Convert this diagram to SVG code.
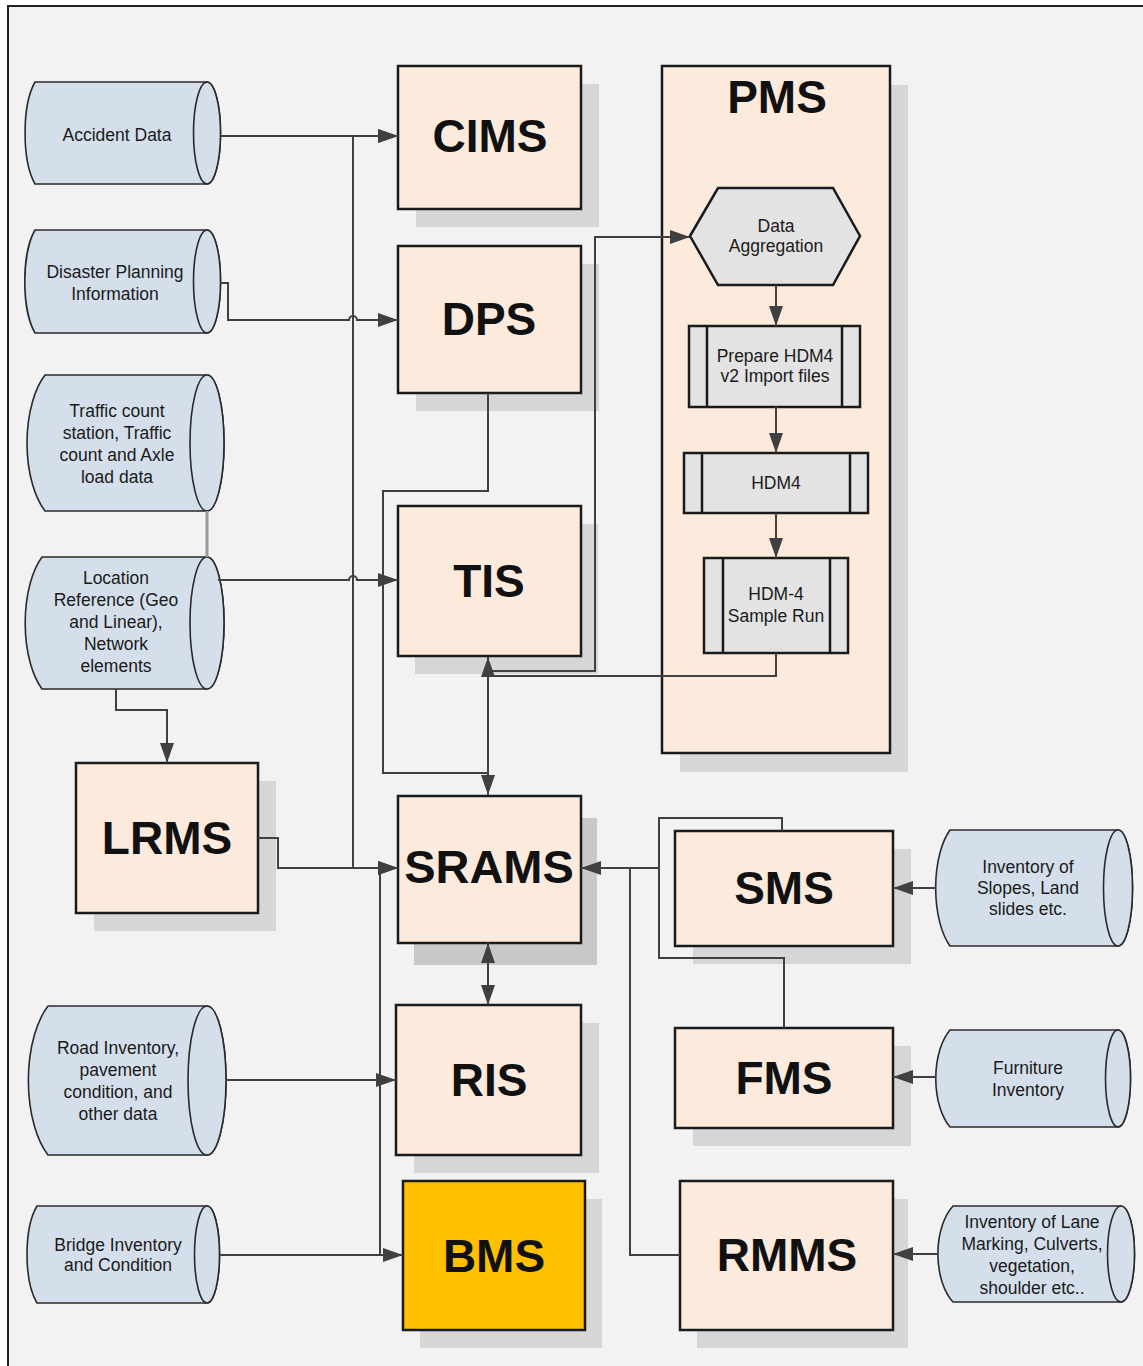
<svg xmlns="http://www.w3.org/2000/svg" width="1143" height="1366" viewBox="0 0 1143 1366">
<style>
.bg{fill:#f2f2f2;stroke:#222;stroke-width:2}
.box{fill:#fcebdd;stroke:#1a1a1a;stroke-width:2.5}
.bms{fill:#ffc000;stroke:#1a1a1a;stroke-width:2.5}
.sh{fill:#d6d6d6}
.sh2{fill:#c8c8c8}
.proc{fill:#e3e3e3;stroke:#1a1a1a;stroke-width:2.5}
.cyl{fill:#d5dfeb;stroke:#2a2a2a;stroke-width:1.6}
.big{font-family:"Liberation Sans",Arial,sans-serif;font-weight:bold;font-size:46px;text-anchor:middle;fill:#111}
.sm{font-family:"Liberation Sans",Arial,sans-serif;font-size:17.5px;text-anchor:middle;fill:#1a1a1a}
.conn{fill:none;stroke:#404040;stroke-width:2}
.arr{marker-end:url(#ah)}
.both{marker-start:url(#ah);marker-end:url(#ah)}
</style>
<defs>
<marker id="ah" markerUnits="userSpaceOnUse" markerWidth="20" markerHeight="14" viewBox="0 0 20 14" refX="20" refY="7" orient="auto-start-reverse">
<path d="M0,0 L20,7 L0,14 Z" fill="#404040"/>
</marker>
</defs>
<rect x="0" y="0" width="1143" height="1366" fill="#ffffff"/>
<rect class="bg" x="8" y="6" width="1150" height="1380"/>

<g id="accident-data">
<path class="cyl" d="M35,82 L207,82 A13.5,51 0 0 1 207,184 L35,184 A21,60 0 0 1 35,82 Z"/>
<ellipse class="cyl" cx="207" cy="133" rx="13.5" ry="51"/>
<text class="sm" x="117" y="141">Accident Data</text>
</g>
<g id="disaster-planning">
<path class="cyl" d="M35,230 L207,230 A13.5,51.5 0 0 1 207,333 L35,333 A21,60 0 0 1 35,230 Z"/>
<ellipse class="cyl" cx="207" cy="281.5" rx="13.5" ry="51.5"/>
<text class="sm" x="115" y="278">Disaster Planning</text>
<text class="sm" x="115" y="300">Information</text>
</g>
<g id="traffic-count">
<path class="cyl" d="M45,375 L207,375 A17,68 0 0 1 207,511 L45,511 A38,80 0 0 1 45,375 Z"/>
<ellipse class="cyl" cx="207" cy="443" rx="17" ry="68"/>
<text class="sm" x="117" y="417">Traffic count</text>
<text class="sm" x="117" y="439">station, Traffic</text>
<text class="sm" x="117" y="461">count and Axle</text>
<text class="sm" x="117" y="483">load data</text>
</g>
<g id="location-reference">
<path class="cyl" d="M42,557 L207,557 A17,66 0 0 1 207,689 L42,689 A36,78 0 0 1 42,557 Z"/>
<ellipse class="cyl" cx="207" cy="623" rx="17" ry="66"/>
<text class="sm" x="116" y="584">Location</text>
<text class="sm" x="116" y="606">Reference (Geo</text>
<text class="sm" x="116" y="628">and Linear),</text>
<text class="sm" x="116" y="650">Network</text>
<text class="sm" x="116" y="672">elements</text>
</g>
<g id="road-inventory">
<path class="cyl" d="M48,1006 L207,1006 A19,74.5 0 0 1 207,1155 L48,1155 A42,88 0 0 1 48,1006 Z"/>
<ellipse class="cyl" cx="207" cy="1080.5" rx="19" ry="74.5"/>
<text class="sm" x="118" y="1054">Road Inventory,</text>
<text class="sm" x="118" y="1076">pavement</text>
<text class="sm" x="118" y="1098">condition, and</text>
<text class="sm" x="118" y="1120">other data</text>
</g>
<g id="bridge-inventory">
<path class="cyl" d="M37,1206 L207,1206 A12.5,48.5 0 0 1 207,1303 L37,1303 A21,57 0 0 1 37,1206 Z"/>
<ellipse class="cyl" cx="207" cy="1254.5" rx="12.5" ry="48.5"/>
<text class="sm" x="118" y="1251">Bridge Inventory</text>
<text class="sm" x="118" y="1271">and Condition</text>
</g>
<g id="slopes-inventory">
<path class="cyl" d="M950,830 L1118,830 A14.5,58 0 0 1 1118,946 L950,946 A30,68 0 0 1 950,830 Z"/>
<ellipse class="cyl" cx="1118" cy="888" rx="14.5" ry="58"/>
<text class="sm" x="1028" y="873">Inventory of</text>
<text class="sm" x="1028" y="894">Slopes, Land</text>
<text class="sm" x="1028" y="915">slides etc.</text>
</g>
<g id="furniture-inventory">
<path class="cyl" d="M950,1030 L1118,1030 A12.5,48.5 0 0 1 1118,1127 L950,1127 A30,57 0 0 1 950,1030 Z"/>
<ellipse class="cyl" cx="1118" cy="1078.5" rx="12.5" ry="48.5"/>
<text class="sm" x="1028" y="1074">Furniture</text>
<text class="sm" x="1028" y="1096">Inventory</text>
</g>
<g id="lane-marking-inventory">
<path class="cyl" d="M953,1206 L1121,1206 A13.5,48 0 0 1 1121,1302 L953,1302 A32,56.5 0 0 1 953,1206 Z"/>
<ellipse class="cyl" cx="1121" cy="1254" rx="13.5" ry="48"/>
<text class="sm" x="1032" y="1228">Inventory of Lane</text>
<text class="sm" x="1032" y="1250">Marking, Culverts,</text>
<text class="sm" x="1032" y="1272">vegetation,</text>
<text class="sm" x="1032" y="1294">shoulder etc..</text>
</g>

<g id="cims">
<rect class="sh" x="416" y="84" width="183" height="143"/>
<rect class="box" x="398" y="66" width="183" height="143"/>
<text class="big" x="490" y="152">CIMS</text>
</g>
<g id="dps">
<rect class="sh" x="416" y="264" width="183" height="147"/>
<rect class="box" x="398" y="246" width="183" height="147"/>
<text class="big" x="489" y="335">DPS</text>
</g>
<g id="tis">
<rect class="sh" x="415" y="524" width="183" height="150"/>
<rect class="box" x="398" y="506" width="183" height="150"/>
<text class="big" x="489" y="597">TIS</text>
</g>
<g id="pms">
<rect class="sh" x="680" y="85" width="228" height="687"/>
<rect class="box" x="662" y="66" width="228" height="687"/>
<text class="big" x="777" y="113">PMS</text>
</g>
<g id="data-aggregation">
<polygon class="proc" points="690,236 718,188 833,188 860,236 833,285 718,285"/>
<text class="sm" x="776" y="232">Data</text>
<text class="sm" x="776" y="252">Aggregation</text>
</g>
<g id="prepare-hdm4">
<rect class="proc" x="689" y="326" width="171" height="81"/>
<line class="proc" x1="707" y1="326" x2="707" y2="407"/>
<line class="proc" x1="842" y1="326" x2="842" y2="407"/>
<text class="sm" x="775" y="362">Prepare HDM4</text>
<text class="sm" x="775" y="382">v2 Import files</text>
</g>
<g id="hdm4">
<rect class="proc" x="684" y="453" width="184" height="60"/>
<line class="proc" x1="702" y1="453" x2="702" y2="513"/>
<line class="proc" x1="850" y1="453" x2="850" y2="513"/>
<text class="sm" x="776" y="489">HDM4</text>
</g>
<g id="hdm4-sample-run">
<rect class="proc" x="704" y="558" width="144" height="95"/>
<line class="proc" x1="723" y1="558" x2="723" y2="653"/>
<line class="proc" x1="830" y1="558" x2="830" y2="653"/>
<text class="sm" x="776" y="600">HDM-4</text>
<text class="sm" x="776" y="622">Sample Run</text>
</g>
<g id="lrms">
<rect class="sh" x="94" y="781" width="182" height="150"/>
<rect class="box" x="76" y="763" width="182" height="150"/>
<text class="big" x="167" y="854">LRMS</text>
</g>
<g id="srams">
<rect class="sh2" x="414" y="818" width="183" height="147"/>
<rect class="box" x="398" y="796" width="183" height="147"/>
<text class="big" x="489" y="883" style="font-size:47px">SRAMS</text>
</g>
<g id="ris">
<rect class="sh" x="414" y="1023" width="185" height="150"/>
<rect class="box" x="396" y="1005" width="185" height="150"/>
<text class="big" x="489" y="1096">RIS</text>
</g>
<g id="bms">
<rect class="sh" x="420" y="1199" width="182" height="149"/>
<rect class="bms" x="403" y="1181" width="182" height="149"/>
<text class="big" x="494" y="1272">BMS</text>
</g>
<g id="sms">
<rect class="sh" x="693" y="849" width="218" height="115"/>
<rect class="box" x="675" y="831" width="218" height="115"/>
<text class="big" x="784" y="904">SMS</text>
</g>
<g id="fms">
<rect class="sh" x="693" y="1046" width="218" height="100"/>
<rect class="box" x="675" y="1028" width="218" height="100"/>
<text class="big" x="784" y="1094">FMS</text>
</g>
<g id="rmms">
<rect class="sh" x="697" y="1199" width="211" height="149"/>
<rect class="box" x="680" y="1181" width="213" height="149"/>
<text class="big" x="787" y="1271">RMMS</text>
</g>

<g id="connectors">
<path class="conn arr" d="M220,136 H398"/>
<path class="conn arr" d="M353,868 V136 H398"/>
<path class="conn arr" d="M258,838 H278 V868 H398"/>
<path class="conn arr" d="M220,283 H228 V320 H349 A4,4 0 0 1 357,320 H398"/>
<path d="M207,511 V557" fill="none" stroke="#9a9a9a" stroke-width="3"/>
<path class="conn arr" d="M218,580 H349 A4,4 0 0 1 357,580 H398"/>
<path class="conn arr" d="M116,689 V710 H167 V763"/>
<path class="conn" d="M488,393 V491 H383 V773 H488"/>
<path class="conn both" d="M488,657 V795"/>
<path class="conn arr" d="M488,671 H595 V237 H690"/>
<path class="conn" d="M776,653 V676 H488"/>
<path class="conn arr" d="M776,285 V326"/>
<path class="conn arr" d="M776,407 V453"/>
<path class="conn arr" d="M776,513 V558"/>
<path class="conn both" d="M488,943 V1005"/>
<path class="conn arr" d="M226,1080 H396"/>
<path class="conn arr" d="M220,1255 H403"/>
<path class="conn arr" d="M380,1255 V868 H398"/>
<path class="conn arr" d="M782,831 V818 H659 V868 H581"/>
<path class="conn" d="M784,1028 V958 H659 V868"/>
<path class="conn" d="M680,1255 H630 V868"/>
<path class="conn arr" d="M936,888 H893"/>
<path class="conn arr" d="M936,1077 H893"/>
<path class="conn arr" d="M938,1254 H893"/>
</g>
</svg>
